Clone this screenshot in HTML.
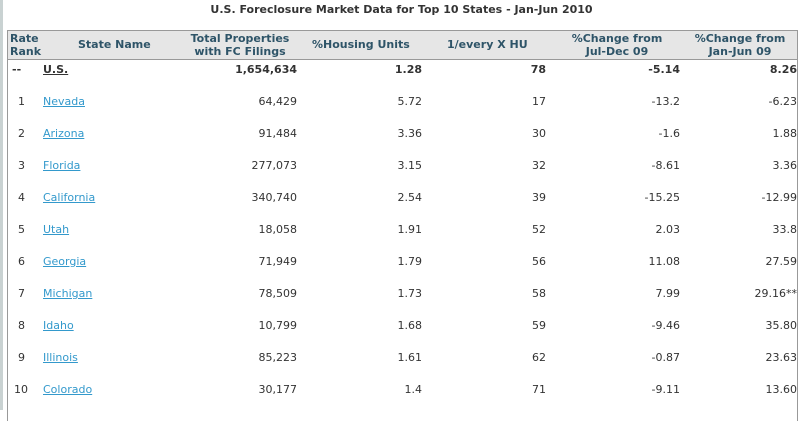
<!DOCTYPE html>
<html><head><meta charset="utf-8"><style>
body{margin:0;width:803px;height:410px;background:#fff;position:relative;overflow:hidden;font-family:"DejaVu Sans","Liberation Sans",sans-serif;font-size:11px;color:#333}
#strip{position:absolute;left:0;top:0;width:3px;height:410px;background:#c9d2d2}
#title{position:absolute;left:0;width:803px;top:3px;text-align:center;font-weight:bold;font-size:11px;color:#333}
#tbl{position:absolute;left:7px;top:30px;width:789px;height:390px;border-left:1px solid #999;border-right:1px solid #999;border-top:1px solid #999}
#hdr{position:absolute;left:8px;top:31px;width:789px;height:28px;background:#e6e6e6;border-bottom:1px solid #999}
.h{position:absolute;font-weight:bold;color:#2e5468;line-height:13px;font-size:11px}
.c{position:absolute;line-height:13px;white-space:nowrap}
.r{text-align:right}
a{color:#3399cc;text-decoration:underline}
.b{font-weight:bold}
</style></head><body>
<div id="strip"></div>
<div id="title">U.S. Foreclosure Market Data for Top 10 States - Jan-Jun 2010</div>
<div id="tbl"></div>
<div id="hdr"></div>
<div class="h" style="left:10px;top:32px">Rate<br>Rank</div>
<div class="h" style="left:78px;top:38px">State Name</div>
<div class="h" style="left:180px;top:32px;width:120px;text-align:center">Total Properties<br>with FC Filings</div>
<div class="h" style="left:312px;top:38px">%Housing Units</div>
<div class="h" style="left:447px;top:38px">1/every X HU</div>
<div class="h" style="left:552px;top:32px;width:130px;text-align:center">%Change from<br>Jul-Dec 09</div>
<div class="h" style="left:675px;top:32px;width:130px;text-align:center">%Change from<br>Jan-Jun 09</div>
<div id="rows"></div>
<script>
const ranks=["--","1","2","3","4","5","6","7","8","9","10"];
const states=["U.S.","Nevada","Arizona","Florida","California","Utah","Georgia","Michigan","Idaho","Illinois","Colorado"];
const totals=["1,654,634","64,429","91,484","277,073","340,740","18,058","71,949","78,509","10,799","85,223","30,177"];
const housing=["1.28","5.72","3.36","3.15","2.54","1.91","1.79","1.73","1.68","1.61","1.4"];
const every=["78","17","30","32","39","52","56","58","59","62","71"];
const chJul=["-5.14","-13.2","-1.6","-8.61","-15.25","2.03","11.08","7.99","-9.46","-0.87","-9.11"];
const chJan=["8.26","-6.23","1.88","3.36","-12.99","33.8","27.59","29.16**","35.80","23.63","13.60"];
const root=document.getElementById('rows');
function cell(txt,left,right,top,cls,name){
  const d=document.createElement('div');
  d.className='c '+cls;
  d.style.top=top+'px';
  if(right!==null){d.style.right=(803-right)+'px';}else{d.style.left=left+'px';}
  d.textContent=txt;
  
  
  root.appendChild(d);return d;
}
for(let i=0;i<states.length;i++){
  const top=63+i*32;const b=i===0?' b':'';
  cell(ranks[i],i===0?12:(ranks[i].length>1?14:18),null,top,b,'rank-cell');
  const a=document.createElement('a');
  a.className='c'+(i===0?' b':'');
  a.style.left='43px';a.style.top=top+'px';
  if(i===0)a.style.color='#333';
  a.textContent=states[i];
  
  
  root.appendChild(a);
  cell(totals[i],null,297,top,'r'+b,'total-cell');
  cell(housing[i],null,422,top,'r'+b,'housing-cell');
  cell(every[i],null,546,top,'r'+b,'every-cell');
  cell(chJul[i],null,680,top,'r'+b,'change-jul-cell');
  cell(chJan[i],null,797,top,'r'+b,'change-jan-cell');
}
</script>
</body></html>
